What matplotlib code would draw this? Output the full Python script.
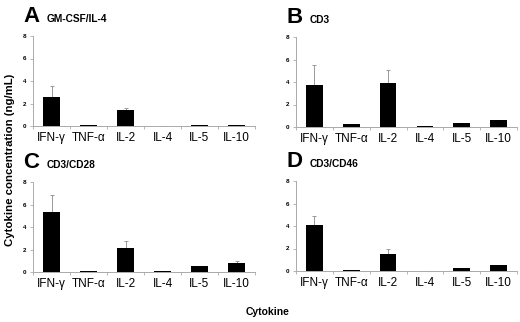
import matplotlib
matplotlib.use('Agg')
import matplotlib.pyplot as plt
import numpy as np

plt.rcParams['font.family'] = ['Liberation Sans', 'DejaVu Sans']

cytokines = ['IFN-γ', 'TNF-α', 'IL-2', 'IL-4', 'IL-5', 'IL-10']

letters = ['A', 'B', 'C', 'D']
titles = ['GM-CSF/IL-4', 'CD3', 'CD3/CD28', 'CD3/CD46']

# mean values (ng/mL)
gmcsf_mean = [2.55, 0.05, 1.45, 0.0, 0.05, 0.05]
cd3_mean = [3.75, 0.25, 3.9, 0.05, 0.35, 0.6]
cd28_mean = [5.35, 0.1, 2.1, 0.05, 0.5, 0.8]
cd46_mean = [4.05, 0.05, 1.55, 0.0, 0.25, 0.5]

# upper error (SD)
gmcsf_err = [1.0, 0.0, 0.15, 0.0, 0.0, 0.0]
cd3_err = [1.8, 0.05, 1.15, 0.0, 0.03, 0.05]
cd28_err = [1.5, 0.0, 0.65, 0.0, 0.05, 0.15]
cd46_err = [0.8, 0.0, 0.4, 0.0, 0.03, 0.05]

means = [gmcsf_mean, cd3_mean, cd28_mean, cd46_mean]
errs = [gmcsf_err, cd3_err, cd28_err, cd46_err]

W, H = 520, 322
fig = plt.figure(figsize=(W / 100, H / 100), dpi=100)

# panel boxes in pixels: left, right, top, bottom
boxes = [(33, 255, 36, 126), (296, 517, 37, 127),
         (33, 255, 182, 272), (296, 517, 181, 271)]

x = np.arange(len(cytokines))
for i in range(4):
    l, r, t, b = boxes[i]
    ax = fig.add_axes([l / W, 1 - b / H, (r - l) / W, (b - t) / H])
    ax.bar(x, means[i], width=0.45, color='black', zorder=2)
    ax.errorbar(x, means[i], yerr=[np.zeros(6), errs[i]], fmt='none',
                ecolor='#999999', elinewidth=0.7, capsize=1.5, capthick=0.7, zorder=1)
    ax.set_xlim(-0.5, 5.5)
    ax.set_ylim(0, 8)
    ax.set_yticks([0, 2, 4, 6, 8])
    ax.set_xticks(x)
    ax.set_xticklabels(cytokines, fontsize=8.5)
    ax.set_xticks(np.arange(-0.5, 6, 1), minor=True)
    ax.tick_params(axis='x', which='major', length=0, pad=4)
    ax.tick_params(axis='x', which='minor', length=2, color='#aaaaaa', width=0.6)
    ax.tick_params(axis='y', length=2, color='#aaaaaa', width=0.6, labelsize=4.5, pad=3)
    for lab in ax.get_yticklabels():
        lab.set_fontweight('bold')
    for s in ['top', 'right']:
        ax.spines[s].set_visible(False)
    for s in ['left', 'bottom']:
        ax.spines[s].set_color('#aaaaaa')
        ax.spines[s].set_linewidth(0.7)
    # panel letter and title
    lx = l - 10
    fig.text(lx / W, 1 - (t - 14) / H, letters[i], fontsize=16, fontweight='bold',
             va='baseline', ha='left')
    fig.text((lx + 24) / W, 1 - (t - 14) / H, titles[i], fontsize=7.3,
             fontweight='bold', va='baseline', ha='left')

fig.text(10 / W, 1 - 160 / H, 'Cytokine concentration (ng/mL)', rotation=90,
         fontsize=8.2, fontweight='bold', va='center', ha='center')
fig.text(268 / W, 1 - 312 / H, 'Cytokine', fontsize=7.5, fontweight='bold',
         va='center', ha='center')

fig.savefig('out.png', dpi=100)
